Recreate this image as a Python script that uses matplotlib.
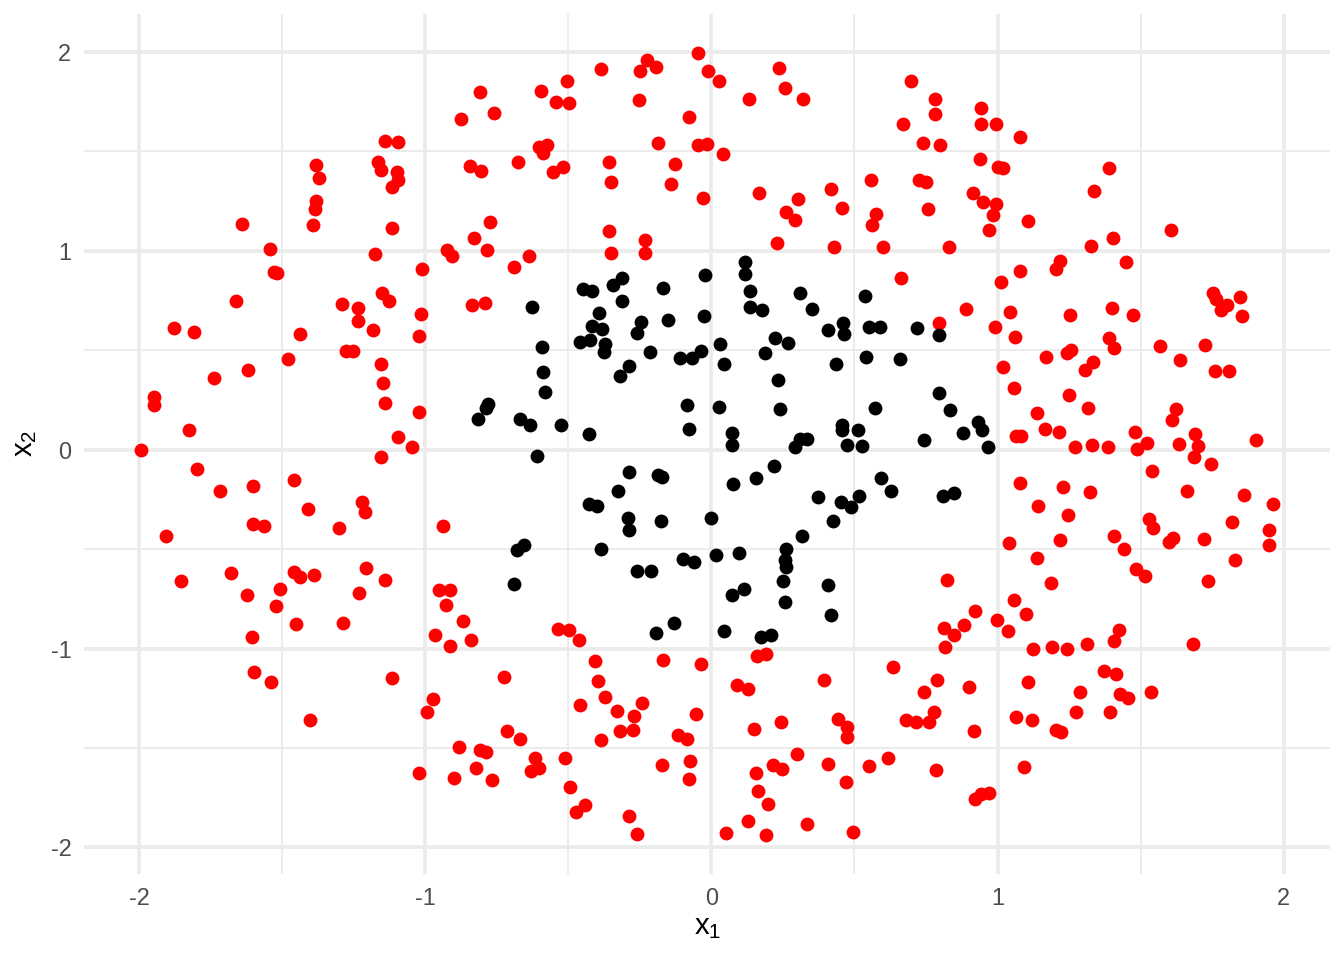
import matplotlib.pyplot as plt
import numpy as np
from matplotlib.ticker import MultipleLocator

# class "outside" (red) and class "inside" (black) points, as (x1, x2)
red_points = [
    (-1.141, 1.550), (-1.094, 1.546), (-1.381, 1.434), (-1.166, 1.447), (-1.372, 1.367),
    (-1.153, 1.404), (-1.097, 1.397), (-1.094, 1.357), (-1.115, 1.323), (-1.383, 1.249),
    (-1.386, 1.208), (-1.641, 1.135), (-1.393, 1.129), (-1.117, 1.115), (-1.543, 1.010),
    (-1.177, 0.986), (-1.530, 0.891), (-1.519, 0.887), (-1.660, 0.746), (-1.289, 0.733),
    (-1.235, 0.713), (-1.152, 0.787), (-1.126, 0.750),
    (-0.048, 1.996), (-0.224, 1.957), (-0.249, 1.905), (-0.193, 1.924), (-0.387, 1.912),
    (-0.505, 1.855), (-0.594, 1.806), (-0.544, 1.749), (-0.499, 1.743), (-0.808, 1.801),
    (-0.761, 1.691), (-0.874, 1.665), (-0.254, 1.756), (-0.078, 1.672), (-0.188, 1.541),
    (-0.048, 1.531), (-0.601, 1.521), (-0.575, 1.531), (-0.589, 1.493), (-0.843, 1.427),
    (-0.804, 1.400), (-0.677, 1.446), (-0.554, 1.395), (-0.517, 1.419), (-0.359, 1.447),
    (-0.351, 1.347), (-0.127, 1.436), (-0.141, 1.335), (-0.772, 1.145), (-0.830, 1.065),
    (-0.923, 1.006), (-0.907, 0.976), (-0.784, 1.005), (-0.638, 0.976), (-0.689, 0.919),
    (-0.357, 1.100), (-0.233, 1.055), (-0.352, 0.990), (-0.232, 0.988), (-1.012, 0.907),
    (-0.836, 0.728), (-0.790, 0.740), (-1.013, 0.683),
    (-0.013, 1.904), (0.026, 1.853), (0.235, 1.919), (0.259, 1.820), (0.319, 1.764),
    (0.131, 1.764), (0.698, 1.853), (0.781, 1.764), (0.781, 1.686), (0.941, 1.717),
    (0.941, 1.639), (0.670, 1.639), (0.739, 1.541), (0.798, 1.530), (-0.015, 1.535),
    (0.040, 1.489), (0.939, 1.464), (0.559, 1.355), (0.725, 1.355), (0.751, 1.348),
    (0.914, 1.293), (0.950, 1.244), (0.971, 1.107), (0.758, 1.209), (-0.029, 1.266),
    (0.167, 1.293), (0.303, 1.260), (0.261, 1.194), (0.291, 1.156), (0.417, 1.310),
    (0.455, 1.214), (0.577, 1.187), (0.563, 1.130), (0.230, 1.038), (0.428, 1.018),
    (0.600, 1.020), (0.830, 1.018), (0.663, 0.862), (0.889, 0.706),
    (0.994, 1.639), (1.080, 1.571), (1.003, 1.422), (1.019, 1.414), (1.390, 1.417),
    (1.336, 1.303), (0.994, 1.233), (0.983, 1.182), (1.105, 1.152), (1.605, 1.107),
    (1.328, 1.026), (1.403, 1.062), (1.219, 0.948), (1.204, 0.911), (1.449, 0.946),
    (1.078, 0.896), (1.013, 0.844), (1.753, 0.787), (1.763, 0.758), (1.846, 0.768),
    (1.803, 0.726), (1.781, 0.703), (1.854, 0.674), (1.045, 0.691), (1.252, 0.679),
    (1.401, 0.714), (1.473, 0.676),
    (-1.878, 0.614), (-1.808, 0.590), (-1.437, 0.582), (-1.234, 0.649), (-1.183, 0.602),
    (-1.276, 0.498), (-1.254, 0.498), (-1.478, 0.455), (-1.153, 0.429), (-1.619, 0.403),
    (-1.737, 0.359), (-1.148, 0.335), (-1.948, 0.265), (-1.949, 0.223), (-1.140, 0.235),
    (-1.825, 0.099), (-1.094, 0.062), (-1.993, -0.003), (-1.153, -0.039), (-1.797, -0.096),
    (-1.457, -0.151), (-1.716, -0.210), (-1.600, -0.184), (-1.409, -0.299), (-1.221, -0.265),
    (-1.212, -0.312), (-1.601, -0.372), (-1.562, -0.382), (-1.302, -0.392), (-1.904, -0.436),
    (-1.206, -0.597), (-1.141, -0.654), (-1.855, -0.659), (-1.678, -0.619), (-1.459, -0.617),
    (-1.437, -0.641), (-1.387, -0.632), (-1.509, -0.703), (-1.624, -0.731), (-1.232, -0.721),
    (-1.021, 0.570), (-1.022, 0.188), (-1.045, 0.012), (-0.939, -0.386), (-0.953, -0.706),
    (-0.913, -0.706), (0.796, 0.637), (0.822, -0.657),
    (0.990, 0.617), (1.061, 0.567), (1.390, 0.562), (1.407, 0.513), (1.568, 0.520),
    (1.724, 0.525), (1.639, 0.451), (1.759, 0.394), (1.810, 0.394), (1.171, 0.465),
    (1.241, 0.486), (1.255, 0.501), (1.332, 0.441), (1.304, 0.401), (1.019, 0.416),
    (1.056, 0.310), (1.251, 0.273), (1.317, 0.210), (1.139, 0.184), (1.166, 0.106),
    (1.214, 0.091), (1.066, 0.070), (1.083, 0.070), (1.270, 0.015), (1.329, 0.025),
    (1.387, 0.015), (1.479, 0.089), (1.488, 0.005), (1.521, 0.035), (1.622, 0.206),
    (1.611, 0.149), (1.634, 0.030), (1.691, 0.077), (1.702, 0.017), (1.685, -0.035),
    (1.745, -0.072), (1.902, 0.047), (1.541, -0.107), (1.079, -0.168), (1.230, -0.190),
    (1.323, -0.211), (1.662, -0.206), (1.861, -0.226), (1.964, -0.272), (1.141, -0.282),
    (1.245, -0.330), (1.531, -0.347), (1.544, -0.394), (1.821, -0.364), (1.948, -0.403),
    (1.948, -0.481), (1.040, -0.471), (1.218, -0.456), (1.408, -0.434), (1.441, -0.501),
    (1.598, -0.463), (1.614, -0.443), (1.723, -0.449), (1.139, -0.545), (1.831, -0.557),
    (1.483, -0.599), (1.514, -0.634), (1.186, -0.668), (1.734, -0.661),
    (-1.523, -0.788), (-1.453, -0.875), (-1.286, -0.870), (-1.605, -0.944), (-1.598, -1.120),
    (-1.538, -1.166), (-1.115, -1.149), (-1.402, -1.358),
    (-0.929, -0.780), (-0.868, -0.860), (-0.967, -0.932), (-0.915, -0.986), (-0.841, -0.956),
    (-0.536, -0.904), (-0.497, -0.907), (-0.463, -0.956), (-0.726, -1.145), (-0.406, -1.062),
    (-0.396, -1.162), (-0.170, -1.058), (-0.972, -1.253), (-0.993, -1.320), (-0.371, -1.246),
    (-0.459, -1.285), (-0.328, -1.313), (-0.272, -1.337), (-0.241, -1.273), (-0.318, -1.417),
    (-0.274, -1.409), (-0.386, -1.462), (-0.052, -1.330), (-0.117, -1.437), (-0.085, -1.456),
    (-0.714, -1.414), (-0.669, -1.454), (-0.883, -1.496), (-0.808, -1.509), (-0.787, -1.519),
    (-0.617, -1.550), (-0.513, -1.548), (-1.021, -1.627), (-0.901, -1.649), (-0.821, -1.600),
    (-0.766, -1.662), (-0.629, -1.615), (-0.603, -1.602), (-0.495, -1.694), (-0.172, -1.587),
    (-0.076, -1.568), (-0.078, -1.657), (-0.474, -1.823), (-0.441, -1.788), (-0.288, -1.843),
    (-0.259, -1.932),
    (-0.037, -1.078), (0.160, -1.040), (0.192, -1.025), (0.090, -1.184), (0.127, -1.201),
    (0.394, -1.159), (0.149, -1.404), (0.244, -1.367), (0.441, -1.353), (0.474, -1.395),
    (0.474, -1.444), (0.634, -1.094), (0.787, -1.159), (0.744, -1.221), (0.901, -1.194),
    (0.777, -1.318), (0.760, -1.369), (0.681, -1.358), (0.716, -1.370), (0.917, -1.417),
    (0.812, -0.899), (0.847, -0.934), (0.883, -0.881), (0.921, -0.810), (0.815, -0.991),
    (0.298, -1.531), (0.214, -1.585), (0.246, -1.607), (0.156, -1.625), (0.163, -1.714),
    (0.199, -1.784), (0.407, -1.582), (0.469, -1.670), (0.552, -1.593), (0.617, -1.548),
    (0.784, -1.610), (0.923, -1.758), (0.941, -1.732), (0.969, -1.726), (0.127, -1.865),
    (0.050, -1.929), (0.191, -1.937), (0.334, -1.883), (0.495, -1.922),
    (1.056, -0.755), (0.998, -0.855), (1.100, -0.825), (1.038, -0.911), (1.424, -0.907),
    (1.408, -0.963), (1.125, -1.003), (1.190, -0.993), (1.241, -1.001), (1.312, -0.976),
    (1.682, -0.976), (1.371, -1.114), (1.415, -1.127), (1.107, -1.166), (1.288, -1.218),
    (1.429, -1.229), (1.456, -1.248), (1.537, -1.221), (1.274, -1.320), (1.392, -1.318),
    (1.063, -1.345), (1.119, -1.360), (1.205, -1.412), (1.223, -1.422), (1.094, -1.595),
]

black_points = [
    (-0.450, 0.810), (-0.418, 0.800), (-0.343, 0.829), (-0.314, 0.865), (-0.170, 0.813),
    (-0.314, 0.750), (-0.392, 0.689), (-0.626, 0.716),
    (0.117, 0.943), (0.119, 0.881), (-0.021, 0.877), (0.134, 0.798), (0.308, 0.790),
    (0.538, 0.773), (0.134, 0.718), (0.176, 0.703), (0.353, 0.706),
    (-0.417, 0.621), (-0.381, 0.609), (-0.246, 0.642), (-0.260, 0.587), (-0.152, 0.651),
    (-0.460, 0.540), (-0.423, 0.552), (-0.371, 0.532), (-0.374, 0.490), (-0.593, 0.517),
    (-0.213, 0.491), (-0.111, 0.460), (-0.069, 0.461), (-0.288, 0.419), (-0.318, 0.372),
    (-0.589, 0.389), (-0.583, 0.292), (-0.782, 0.231), (-0.786, 0.208), (-0.817, 0.154),
    (-0.667, 0.154), (-0.634, 0.122), (-0.526, 0.122), (-0.429, 0.081), (-0.084, 0.225),
    (-0.079, 0.102), (-0.611, -0.030), (-0.289, -0.111), (-0.188, -0.126), (-0.174, -0.139),
    (-0.325, -0.210), (-0.427, -0.272), (-0.401, -0.285), (-0.293, -0.344), (-0.289, -0.403),
    (-0.175, -0.361), (-0.386, -0.498), (-0.655, -0.478), (-0.678, -0.505), (-0.688, -0.674),
    (-0.100, -0.548), (-0.059, -0.565), (-0.260, -0.612), (-0.211, -0.612),
    (-0.027, 0.673), (-0.035, 0.498), (0.029, 0.532), (0.045, 0.433), (0.223, 0.562),
    (0.268, 0.537), (0.188, 0.486), (0.406, 0.600), (0.459, 0.637), (0.465, 0.582),
    (0.552, 0.617), (0.589, 0.617), (0.718, 0.610), (0.796, 0.575), (0.541, 0.466),
    (0.659, 0.458), (0.437, 0.431), (0.234, 0.351), (0.026, 0.213), (0.239, 0.206),
    (0.571, 0.210), (0.795, 0.285), (0.833, 0.200), (0.073, 0.082), (0.073, 0.025),
    (0.309, 0.055), (0.334, 0.054), (0.294, 0.012), (0.456, 0.122), (0.456, 0.099),
    (0.514, 0.099), (0.474, 0.023), (0.528, 0.018), (0.742, 0.047), (0.881, 0.084),
    (0.930, 0.139), (0.946, 0.099), (0.967, 0.015), (0.219, -0.081), (0.156, -0.143),
    (0.076, -0.173), (0.594, -0.141), (0.627, -0.206), (0.373, -0.240), (0.453, -0.265),
    (0.488, -0.290), (0.517, -0.235), (0.810, -0.233), (0.847, -0.218), (-0.003, -0.344),
    (0.425, -0.359), (0.315, -0.436), (0.016, -0.532), (0.096, -0.522), (0.262, -0.498),
    (0.256, -0.553), (0.260, -0.592), (0.252, -0.661), (0.406, -0.681), (0.072, -0.730),
    (0.113, -0.701),
    (-0.192, -0.922), (-0.132, -0.872),
    (0.259, -0.766), (0.418, -0.830), (0.045, -0.911), (0.174, -0.941), (0.207, -0.934),
]

red = np.array(red_points)
black = np.array(black_points)

plt.rcParams['font.family'] = ['Liberation Sans', 'DejaVu Sans']

fig = plt.figure(figsize=(7, 5), dpi=192)
ax = fig.add_axes([0.0628, 0.0896, 0.9268, 0.8962])

ax.scatter(red[:, 0], red[:, 1], s=27, color='#FF0000', linewidths=0, zorder=3)
ax.scatter(black[:, 0], black[:, 1], s=27, color='#000000', linewidths=0, zorder=3)

# ggplot-style 5% expansion of the data range
allpts = np.vstack([red, black])
xlo, xhi = allpts[:, 0].min(), allpts[:, 0].max()
ylo, yhi = allpts[:, 1].min(), allpts[:, 1].max()
ax.set_xlim(xlo - 0.05 * (xhi - xlo), xhi + 0.05 * (xhi - xlo))
ax.set_ylim(ylo - 0.05 * (yhi - ylo), yhi + 0.05 * (yhi - ylo))

ax.xaxis.set_major_locator(MultipleLocator(1))
ax.yaxis.set_major_locator(MultipleLocator(1))
ax.xaxis.set_minor_locator(MultipleLocator(0.5))
ax.yaxis.set_minor_locator(MultipleLocator(0.5))
ax.grid(which='major', color='#EBEBEB', linewidth=1.42)
ax.grid(which='minor', color='#EBEBEB', linewidth=0.71)
ax.set_axisbelow(True)

for s in ax.spines.values():
    s.set_visible(False)
ax.tick_params(which='both', length=0, pad=4.9, labelsize=8.8, labelcolor='#4D4D4D')
ax.xaxis.set_major_formatter(plt.FuncFormatter(lambda v, p: '%d' % v))
ax.yaxis.set_major_formatter(plt.FuncFormatter(lambda v, p: '%d' % v))

ax.set_xlabel(r'$\mathregular{x_1}$', fontsize=11, labelpad=1.0)
ax.set_ylabel(r'$\mathregular{x_2}$', fontsize=11, labelpad=4.5)

fig.savefig('out.png', dpi=192, facecolor='white')
